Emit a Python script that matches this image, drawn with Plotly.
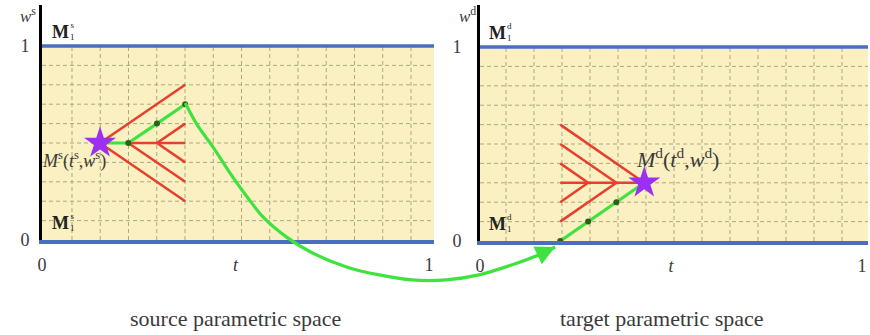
import plotly.graph_objects as go

# ---------------- data ----------------
# source parametric space: search tree around M^s(t^s, w^s)
src_star_t = [0.15]
src_star_w = [0.50]
src_red_t0 = [0.150, 0.150, 0.223, 0.223, 0.297, 0.297]
src_red_w0 = [0.50, 0.50, 0.50, 0.50, 0.50, 0.50]
src_red_t1 = [0.370, 0.370, 0.370, 0.370, 0.370, 0.370]
src_red_w1 = [0.80, 0.20, 0.50, 0.30, 0.60, 0.40]
src_green_t = [0.150, 0.223, 0.297, 0.370]
src_green_w = [0.50, 0.50, 0.60, 0.70]

# target parametric space: search tree around M^d(t^d, w^d)
tgt_star_t = [0.43]
tgt_star_w = [0.30]
tgt_red_t0 = [0.430, 0.430, 0.357, 0.357, 0.283, 0.283]
tgt_red_w0 = [0.30, 0.30, 0.30, 0.30, 0.30, 0.30]
tgt_red_t1 = [0.210, 0.210, 0.210, 0.210, 0.210, 0.210]
tgt_red_w1 = [0.60, 0.30, 0.50, 0.10, 0.40, 0.20]
tgt_green_t = [0.430, 0.357, 0.283, 0.210]
tgt_green_w = [0.30, 0.20, 0.10, 0.00]

# mapping arrow (expressed in source-panel units, extended across the figure)
map_t = [0.370, 0.401, 0.442, 0.486, 0.530, 0.571, 0.632, 0.699, 0.787,
         0.871, 0.956, 1.044, 1.129, 1.213, 1.283]
map_w = [0.706, 0.593, 0.479, 0.345, 0.222, 0.119, 0.015, -0.067, -0.139,
         -0.180, -0.206, -0.206, -0.180, -0.129, -0.077]
map_tip = (1.326, -0.036)

# grid lines
src_grid_t = [0.0775 + 0.073 * k for k in range(13)]
tgt_grid_t = [0.068 + 0.0733 * k for k in range(13)]
grid_w = [0.1, 0.2, 0.3, 0.4, 0.5, 0.6, 0.7, 0.8, 0.9]

tick_vals_x = [0, 0.5, 1]
tick_text_x = ["0", "<i>t</i>", "1"]
tick_vals_y = [0, 1]
tick_text_y = ["0", "1"]

# ---------------- styles ----------------
SERIF = "Liberation Serif, Times New Roman, serif"
RED = "#E8402E"
GREEN = "#3FE23F"
DOT = "#2E5E1C"
BLUE = "#4A6EC0"
PURPLE = "#9B30F0"
YELLOW = "#FAF0C2"
GRID = "#A9AA80"
TXT = "#3a3a3a"

W, H = 870, 335
SRC_XMAX = 392 / 387
TGT_XMAX = 388 / 382
SRC_YMAX = 235 / 194
TGT_YMAX = 236 / 194

fig = go.Figure()


def grid_trace(gts, xmax, xa, ya):
    gx, gy = [], []
    for v in gts:
        if v <= xmax:
            gx += [v, v, None]
            gy += [0, 1, None]
    for v in grid_w:
        gx += [0, xmax, None]
        gy += [v, v, None]
    return go.Scatter(x=gx, y=gy, mode="lines", xaxis=xa, yaxis=ya,
                      line=dict(color=GRID, width=1, dash="4px,3px"),
                      hoverinfo="skip", showlegend=False)


def seg_trace(t0, w0, t1, w1, xa, ya):
    sx, sy = [], []
    for a, b, c, d in zip(t0, w0, t1, w1):
        sx += [a, c, None]
        sy += [b, d, None]
    return go.Scatter(x=sx, y=sy, mode="lines", xaxis=xa, yaxis=ya,
                      line=dict(color=RED, width=2.6),
                      hoverinfo="skip", showlegend=False)


for gts, xmax, xa, ya in [(src_grid_t, SRC_XMAX, "x", "y"),
                          (tgt_grid_t, TGT_XMAX, "x2", "y2")]:
    fig.add_trace(grid_trace(gts, xmax, xa, ya))

fig.add_trace(seg_trace(src_red_t0, src_red_w0, src_red_t1, src_red_w1, "x", "y"))
fig.add_trace(seg_trace(tgt_red_t0, tgt_red_w0, tgt_red_t1, tgt_red_w1, "x2", "y2"))

fig.add_trace(go.Scatter(x=src_green_t, y=src_green_w, mode="lines", xaxis="x", yaxis="y",
                         line=dict(color=GREEN, width=3.2), hoverinfo="skip", showlegend=False))
fig.add_trace(go.Scatter(x=tgt_green_t, y=tgt_green_w, mode="lines", xaxis="x2", yaxis="y2",
                         line=dict(color=GREEN, width=3.2), hoverinfo="skip", showlegend=False))
fig.add_trace(go.Scatter(x=src_green_t[1:], y=src_green_w[1:], mode="markers", xaxis="x", yaxis="y",
                         marker=dict(color=DOT, size=6), hoverinfo="skip", showlegend=False))
fig.add_trace(go.Scatter(x=tgt_green_t[1:], y=tgt_green_w[1:], mode="markers", xaxis="x2", yaxis="y2",
                         marker=dict(color=DOT, size=6), hoverinfo="skip", showlegend=False))

fig.add_trace(go.Scatter(x=src_star_t, y=src_star_w, mode="markers", xaxis="x", yaxis="y",
                         marker=dict(symbol="star", color=PURPLE, size=24, line=dict(width=0)),
                         hoverinfo="skip", showlegend=False))
fig.add_trace(go.Scatter(x=tgt_star_t, y=tgt_star_w, mode="markers", xaxis="x2", yaxis="y2",
                         marker=dict(symbol="star", color=PURPLE, size=24, line=dict(width=0)),
                         hoverinfo="skip", showlegend=False))

# mapping curve across both panels
fig.add_trace(go.Scatter(x=map_t + [map_tip[0]], y=map_w + [map_tip[1]], mode="lines",
                         xaxis="x3", yaxis="y3",
                         line=dict(color=GREEN, width=3.2, shape="spline", smoothing=0.8),
                         hoverinfo="skip", showlegend=False))

# ---------------- shapes ----------------
shapes = []
for xr, yr, xmax in [("x", "y", SRC_XMAX), ("x2", "y2", TGT_XMAX)]:
    shapes.append(dict(type="rect", xref=xr, yref=yr, x0=0, x1=xmax, y0=0, y1=1,
                       fillcolor=YELLOW, line=dict(width=0), layer="below"))
    shapes.append(dict(type="line", xref=xr, yref=yr, x0=0, x1=xmax, y0=1, y1=1,
                       line=dict(color=BLUE, width=3.5)))

# ---------------- annotations ----------------
ann = []


def text(x, y, s, xref, yref, size=16, color=TXT, xanchor="center", yanchor="middle"):
    ann.append(dict(x=x, y=y, xref=xref, yref=yref, text=s, showarrow=False,
                    font=dict(family=SERIF, size=size, color=color),
                    xanchor=xanchor, yanchor=yanchor))


# axis titles (placed on the full-figure overlay axes)
text(-0.036, 1.16, "<i>w</i><sup>s</sup>", "x3", "y3", size=17)
text(1.100, 1.16, "<i>w</i><sup>d</sup>", "x3", "y3", size=17)

# boundary labels
for xr, yr, sup, x0 in [("x", "y", "s", 0.047), ("x2", "y2", "d", 0.045)]:
    for yv in (1.072, 0.09):
        text(x0, yv, "<b>M</b>", xr, yr, size=18, color="#222")
        text(x0 + 0.032, yv + 0.005, sup + "<br>1", xr, yr, size=9, color="#222")

# point labels
text(0.083, 0.41, "<i>M</i><sup>s</sup>(<i>t</i><sup>s</sup>,<i>w</i><sup>s</sup>)", "x", "y", size=18)
text(0.517, 0.428, "<i>M</i><sup>d</sup>(<i>t</i><sup>d</sup>,<i>w</i><sup>d</sup>)", "x2", "y2", size=22)

# captions
text(235 / W, 1 - 318 / H, "source parametric space", "paper", "paper", size=22)
text(662 / W, 1 - 318 / H, "target parametric space", "paper", "paper", size=22)

# arrow head of mapping curve
ann.append(dict(x=map_tip[0], y=map_tip[1], xref="x3", yref="y3",
                ax=map_t[-1], ay=map_w[-1], axref="x3", ayref="y3",
                text="", showarrow=True, arrowhead=2, arrowsize=1.3,
                arrowwidth=3, arrowcolor=GREEN, standoff=0))

tickfont = dict(family=SERIF, size=18, color=TXT)


def xaxis(domain, xmax, anchor):
    return dict(domain=domain, range=[0, xmax], anchor=anchor, showgrid=False, zeroline=False,
                showline=True, linecolor=BLUE, linewidth=3.5, tickmode="array",
                tickvals=tick_vals_x, ticktext=tick_text_x, ticks="", tickfont=tickfont,
                ticklabelstandoff=6, fixedrange=True, automargin=False)


def yaxis(domain, ymax, anchor, standoff):
    return dict(domain=domain, range=[0, ymax], anchor=anchor, showgrid=False, zeroline=False,
                showline=True, linecolor="black", linewidth=3, tickmode="array",
                tickvals=tick_vals_y, ticktext=tick_text_y, ticks="", tickfont=tickfont,
                ticklabelstandoff=standoff, fixedrange=True, automargin=False)


fig.update_layout(
    width=W, height=H, autosize=False,
    margin=dict(l=0, r=0, t=0, b=0, pad=0, autoexpand=False),
    paper_bgcolor="white", plot_bgcolor="rgba(0,0,0,0)",
    showlegend=False,
    xaxis=xaxis([42 / W, 434 / W], SRC_XMAX, "y"),
    yaxis=yaxis([95 / H, 330 / H], SRC_YMAX, "x", 6),
    xaxis2=xaxis([480 / W, 868 / W], TGT_XMAX, "y2"),
    yaxis2=yaxis([94 / H, 330 / H], TGT_YMAX, "x2", 12),
    xaxis3=dict(domain=[0, 1], range=[-42 / 387, 828 / 387], anchor="y3", visible=False,
                fixedrange=True),
    yaxis3=dict(domain=[0, 1], range=[-95 / 194, 240 / 194], anchor="x3", visible=False,
                fixedrange=True),
    shapes=shapes,
    annotations=ann,
)

fig.write_html(
    "out.html",
    config={"displayModeBar": False},
    post_script="document.body.style.margin='0';document.body.style.padding='0';"
                "document.body.style.overflow='hidden';",
)
